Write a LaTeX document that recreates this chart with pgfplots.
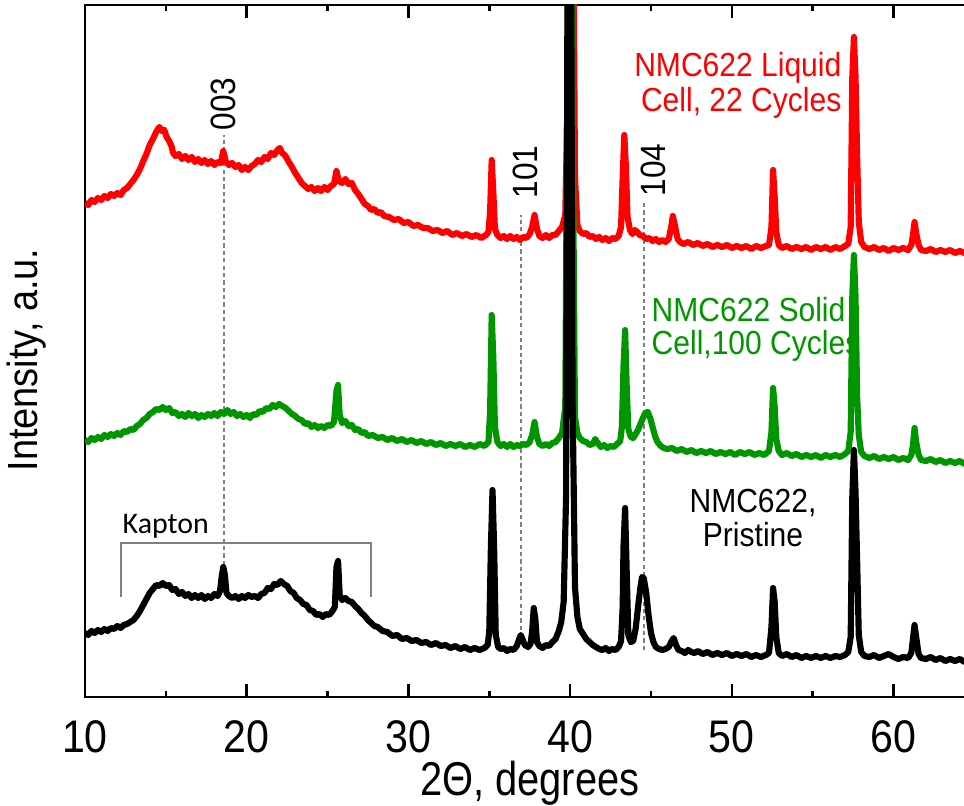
\documentclass[border=0pt]{standalone}
\usepackage{fontspec}
\setmainfont{Liberation Sans}[FakeStretch=0.9]
\newfontfamily\xlabfont{Liberation Sans}[FakeStretch=0.84]
\newfontfamily\kaptonfont{Carlito}
\usepackage{pgfplots}
\pgfplotsset{compat=1.18}
\definecolor{rred}{RGB}{255,0,0}
\definecolor{ggreen}{RGB}{0,150,0}
\begin{document}
\begin{tikzpicture}
\begin{axis}[
 at={(0,0)}, anchor=south west,
 scale only axis, width=8.894cm, height=6.92cm,
 xmin=10, xmax=65, ymin=0, ymax=692,
 xtick={10,20,...,60}, minor xtick={15,25,...,65},
 ytick=\empty,
 tick align=inside,
 major tick length=0.13cm, minor tick length=0.065cm,
 axis line style={line width=0.7pt},
 every tick/.style={line width=0.7pt, black},
 tick label style={font=\fontsize{13}{15}\selectfont},
 xticklabel style={yshift=-0.11cm},
 /pgf/number format/assume math mode=true,
 xlabel={2Θ, degrees}, ylabel={Intensity, a.u.},
 x label style={font=\xlabfont\fontsize{13.5}{15}\selectfont, at={(axis description cs:0.5,-0.125)}, anchor=center},
 y label style={font=\fontsize{12}{14}\selectfont, at={(axis description cs:-0.0652,0.487)}, anchor=center, rotate=0},
 every axis plot/.append style={line width=1.75pt, line join=round, mark=none},
]
% annotations
\draw[gray, line width=0.5pt, dash pattern=on 1.2pt off 0.9pt] (axis cs:18.6,132) -- (axis cs:18.6,562);
\draw[gray, line width=0.5pt, dash pattern=on 1.2pt off 0.9pt] (axis cs:36.95,67) -- (axis cs:36.95,482);
\draw[gray, line width=0.5pt, dash pattern=on 1.2pt off 0.9pt] (axis cs:44.57,47) -- (axis cs:44.57,497);
\draw[gray, line width=0.45pt] (axis cs:12.23,100) -- (axis cs:12.23,154) -- (axis cs:27.69,154) -- (axis cs:27.69,100);

\addplot[rred] coordinates {
(10.0,494) (10.2,492) (10.4,497) (10.6,495) (10.8,499) (11.0,497) (11.2,501) (11.4,499) (11.6,503) (11.8,501) (12.0,504) (12.2,502) (12.4,507) (12.6,509) (12.8,513) (13.0,517) (13.2,522) (13.4,528) (13.6,536) (13.8,543) (14.0,552) (14.2,558) (14.4,565) (14.6,570) (14.75,566) (14.9,567) (15.05,560) (15.2,556) (15.35,551) (15.45,544) (15.6,541) (15.8,543) (16.0,538) (16.2,541) (16.4,537) (16.6,540) (16.8,535) (17.0,538) (17.2,534) (17.4,537) (17.6,533) (17.8,536) (18.0,532) (18.2,535) (18.4,534) (18.55,546) (18.7,536) (18.9,532) (19.1,534) (19.3,530) (19.5,532) (19.7,527) (19.9,530) (20.1,527) (20.3,531) (20.5,533) (20.7,537) (20.9,535) (21.1,540) (21.3,538) (21.5,544) (21.7,542) (21.9,547) (22.05,549) (22.2,544) (22.4,541) (22.6,535) (22.8,530) (23.0,524) (23.2,519) (23.4,514) (23.6,511) (23.8,508) (24.0,510) (24.2,506) (24.4,509) (24.6,506) (24.8,510) (25.0,507) (25.2,511) (25.4,513) (25.55,526) (25.7,516) (25.9,514) (26.1,518) (26.3,513) (26.5,514) (26.7,507) (26.9,503) (27.1,498) (27.3,493) (27.5,491) (27.7,487) (27.9,488) (28.1,484) (28.3,485) (28.5,481) (28.8,480) (29.1,477) (29.4,478) (29.7,474) (30.0,475) (30.3,471) (30.6,472) (30.9,469) (31.2,469) (31.5,466) (31.8,467) (32.1,464) (32.4,466) (32.7,462) (33.0,464) (33.3,461) (33.6,463) (33.9,460) (34.2,462) (34.5,459) (34.8,462) (34.95,465) (35.05,485) (35.15,537) (35.25,505) (35.35,468) (35.5,462) (35.7,459) (35.9,461) (36.1,458) (36.3,461) (36.5,458) (36.7,460) (36.9,457) (37.1,460) (37.3,459) (37.5,463) (37.65,470) (37.8,482) (37.95,468) (38.1,461) (38.3,459) (38.5,462) (38.7,459) (38.9,462) (39.1,462) (39.3,466) (39.5,470) (39.7,482) (39.85,600) (40.0,900) (40.15,900) (40.3,520) (40.45,472) (40.6,466) (40.8,463) (41.0,464) (41.2,460) (41.4,461) (41.6,458) (41.8,460) (42.0,457) (42.2,459) (42.4,456) (42.6,459) (42.8,458) (43.0,461) (43.15,470) (43.25,520) (43.35,562) (43.45,530) (43.55,480) (43.7,467) (43.85,463) (44.0,467) (44.15,465) (44.3,462) (44.5,461) (44.7,458) (44.9,459) (45.1,456) (45.3,458) (45.5,455) (45.7,457) (45.9,455) (46.1,458) (46.25,470) (46.35,481) (46.5,470) (46.65,458) (46.8,455) (47.0,453) (47.3,455) (47.6,452) (47.9,454) (48.2,451) (48.5,453) (48.8,450) (49.1,452) (49.4,450) (49.7,452) (50.0,449) (50.3,451) (50.6,449) (50.9,451) (51.2,448) (51.5,451) (51.8,449) (52.1,451) (52.3,452) (52.45,470) (52.55,527) (52.65,500) (52.75,465) (52.9,452) (53.1,449) (53.4,451) (53.7,448) (54.0,450) (54.3,448) (54.6,450) (54.9,447) (55.2,450) (55.5,448) (55.8,450) (56.1,447) (56.4,450) (56.7,448) (57.0,451) (57.2,453) (57.35,470) (57.45,620) (57.55,660) (57.65,620) (57.75,540) (57.85,475) (58.0,455) (58.2,450) (58.5,448) (58.8,450) (59.1,447) (59.4,449) (59.7,446) (60.0,449) (60.3,447) (60.6,449) (60.9,447) (61.1,452) (61.2,462) (61.3,475) (61.4,464) (61.55,452) (61.7,447) (62.0,446) (62.3,448) (62.6,445) (62.9,447) (63.2,445) (63.5,447) (63.8,444) (64.1,446) (64.4,444) (64.7,446) (65.0,444)
};
\addplot[ggreen] coordinates {
(10.0,257) (10.2,255) (10.4,259) (10.6,257) (10.8,260) (11.0,258) (11.2,262) (11.4,260) (11.6,263) (11.8,261) (12.0,264) (12.2,262) (12.4,266) (12.6,265) (12.8,268) (13.0,267) (13.2,271) (13.4,273) (13.6,277) (13.8,279) (14.0,283) (14.2,285) (14.4,288) (14.6,287) (14.8,290) (15.0,287) (15.2,289) (15.4,284) (15.6,285) (15.8,281) (16.0,283) (16.2,280) (16.4,284) (16.6,281) (16.8,283) (17.0,279) (17.2,282) (17.4,280) (17.6,283) (17.8,281) (18.0,284) (18.2,281) (18.4,285) (18.6,283) (18.8,287) (19.0,283) (19.2,285) (19.4,281) (19.6,283) (19.8,280) (20.0,282) (20.2,279) (20.4,283) (20.6,282) (20.8,286) (21.0,285) (21.2,289) (21.4,288) (21.6,292) (21.8,290) (22.0,293) (22.2,291) (22.4,289) (22.6,286) (22.8,283) (23.0,281) (23.2,278) (23.4,277) (23.6,273) (23.8,274) (24.0,270) (24.2,272) (24.4,269) (24.6,271) (24.8,269) (25.0,272) (25.2,271) (25.4,275) (25.55,306) (25.65,312) (25.75,282) (25.9,274) (26.1,276) (26.3,271) (26.5,272) (26.7,267) (26.9,268) (27.1,264) (27.3,265) (27.5,261) (27.8,262) (28.1,259) (28.4,260) (28.7,257) (29.0,259) (29.3,256) (29.6,258) (29.9,255) (30.2,257) (30.5,254) (30.8,256) (31.1,253) (31.4,255) (31.7,252) (32.0,254) (32.3,251) (32.6,253) (32.9,251) (33.2,253) (33.5,250) (33.8,252) (34.1,250) (34.4,253) (34.7,251) (34.95,255) (35.05,285) (35.15,382) (35.25,340) (35.35,270) (35.5,255) (35.7,251) (35.9,253) (36.1,250) (36.3,253) (36.5,250) (36.7,252) (36.9,251) (37.1,253) (37.3,252) (37.5,255) (37.65,262) (37.8,275) (37.95,260) (38.1,253) (38.3,251) (38.5,253) (38.7,251) (38.9,254) (39.1,255) (39.3,259) (39.5,264) (39.7,290) (39.9,800) (40.05,800) (40.3,280) (40.45,264) (40.6,259) (40.8,256) (41.0,255) (41.2,252) (41.4,253) (41.55,258) (41.7,254) (41.9,250) (42.1,252) (42.3,249) (42.5,251) (42.7,250) (42.9,253) (43.1,256) (43.2,270) (43.3,330) (43.4,367) (43.5,310) (43.6,268) (43.75,260) (43.9,259) (44.05,263) (44.2,267) (44.35,273) (44.5,279) (44.65,284) (44.8,285) (44.95,279) (45.1,270) (45.25,261) (45.4,255) (45.6,251) (45.8,249) (46.0,248) (46.3,249) (46.6,246) (46.9,248) (47.2,245) (47.5,247) (47.8,244) (48.1,246) (48.4,244) (48.7,246) (49.0,243) (49.3,245) (49.6,243) (49.9,245) (50.2,242) (50.5,245) (50.8,243) (51.1,245) (51.4,242) (51.7,244) (52.0,242) (52.3,246) (52.45,265) (52.55,309) (52.65,290) (52.75,258) (52.9,246) (53.1,242) (53.4,244) (53.7,241) (54.0,243) (54.3,240) (54.6,242) (54.9,240) (55.2,242) (55.5,239) (55.8,242) (56.1,240) (56.4,242) (56.7,240) (57.0,243) (57.2,246) (57.35,265) (57.45,400) (57.55,442) (57.65,400) (57.75,300) (57.85,262) (58.0,245) (58.2,241) (58.5,239) (58.8,241) (59.1,238) (59.4,240) (59.7,238) (60.0,240) (60.3,237) (60.6,239) (60.9,237) (61.1,242) (61.2,252) (61.3,269) (61.4,255) (61.55,242) (61.7,237) (62.0,236) (62.3,238) (62.6,235) (62.9,237) (63.2,234) (63.5,236) (63.8,234) (64.1,236) (64.4,233) (64.7,235) (65.0,233)
};
\addplot[black] coordinates {
(10.0,64) (10.2,62) (10.4,66) (10.6,64) (10.8,67) (11.0,65) (11.2,68) (11.4,66) (11.6,69) (11.8,68) (12.0,71) (12.2,69) (12.4,72) (12.6,73) (12.8,75) (13.0,77) (13.2,81) (13.4,86) (13.6,92) (13.8,98) (14.0,104) (14.2,108) (14.4,112) (14.6,111) (14.8,114) (15.0,111) (15.2,112) (15.4,107) (15.6,108) (15.8,103) (16.0,105) (16.2,101) (16.4,103) (16.6,99) (16.8,102) (17.0,99) (17.2,102) (17.4,98) (17.6,101) (17.8,99) (18.0,103) (18.2,101) (18.35,106) (18.45,120) (18.55,130) (18.65,122) (18.75,104) (18.9,101) (19.1,99) (19.3,101) (19.5,98) (19.7,101) (19.9,99) (20.1,102) (20.3,100) (20.5,101) (20.7,99) (20.9,103) (21.1,104) (21.3,109) (21.5,108) (21.7,113) (21.9,112) (22.1,116) (22.3,113) (22.5,111) (22.7,106) (22.9,104) (23.1,99) (23.3,97) (23.5,93) (23.7,92) (23.9,87) (24.1,86) (24.3,82) (24.5,83) (24.7,80) (24.9,83) (25.1,82) (25.3,86) (25.45,90) (25.55,130) (25.65,136) (25.75,102) (25.9,97) (26.1,99) (26.3,96) (26.5,95) (26.7,91) (26.9,88) (27.1,84) (27.3,81) (27.5,77) (27.7,74) (27.9,71) (28.1,70) (28.4,66) (28.7,65) (29.0,61) (29.3,62) (29.6,58) (29.9,59) (30.2,56) (30.5,57) (30.8,54) (31.1,55) (31.4,52) (31.7,54) (32.0,51) (32.3,52) (32.6,49) (32.9,51) (33.2,48) (33.5,50) (33.8,47) (34.1,49) (34.4,47) (34.7,49) (34.9,52) (35.0,65) (35.1,150) (35.2,207) (35.3,150) (35.4,62) (35.55,50) (35.7,48) (35.9,49) (36.1,46) (36.3,48) (36.5,47) (36.7,51) (36.85,58) (36.95,62) (37.05,58) (37.2,52) (37.4,50) (37.55,53) (37.65,65) (37.75,89) (37.85,78) (37.95,55) (38.1,51) (38.3,49) (38.5,52) (38.7,51) (38.9,55) (39.1,58) (39.3,66) (39.45,75) (39.6,95) (39.75,200) (39.85,800) (40.05,800) (40.15,300) (40.3,110) (40.45,80) (40.6,68) (40.8,63) (41.0,58) (41.2,55) (41.4,52) (41.6,50) (41.8,48) (42.0,47) (42.2,49) (42.4,46) (42.6,48) (42.8,47) (43.0,50) (43.15,56) (43.25,90) (43.3,150) (43.4,189) (43.5,125) (43.6,62) (43.75,55) (43.9,56) (44.05,68) (44.2,90) (44.35,110) (44.45,120) (44.55,119) (44.7,105) (44.85,82) (45.0,64) (45.15,55) (45.3,50) (45.5,48) (45.7,47) (45.9,48) (46.1,50) (46.25,55) (46.4,59) (46.55,52) (46.7,47) (46.9,46) (47.1,44) (47.3,47) (47.5,45) (47.7,44) (47.9,46) (48.2,43) (48.5,45) (48.8,42) (49.1,44) (49.4,42) (49.7,44) (50.0,41) (50.3,43) (50.6,41) (50.9,43) (51.2,40) (51.5,42) (51.8,40) (52.1,42) (52.3,44) (52.45,70) (52.55,109) (52.65,95) (52.75,60) (52.9,44) (53.1,41) (53.4,43) (53.7,40) (54.0,42) (54.3,39) (54.6,41) (54.9,39) (55.2,41) (55.5,39) (55.8,41) (56.1,39) (56.4,41) (56.7,40) (57.0,42) (57.2,45) (57.35,60) (57.45,200) (57.55,247) (57.65,205) (57.75,135) (57.85,62) (58.0,45) (58.2,41) (58.5,40) (58.8,42) (59.1,39) (59.4,41) (59.7,43) (60.0,40) (60.3,38) (60.6,40) (60.9,39) (61.1,44) (61.2,58) (61.3,72) (61.4,60) (61.55,43) (61.7,39) (62.0,38) (62.3,40) (62.6,37) (62.9,39) (63.2,36) (63.5,38) (63.8,36) (64.1,38) (64.4,35) (64.7,37) (65.0,35)
};

% text labels
\node[rred, font=\fontsize{9.5}{11}\selectfont, anchor=base east, inner sep=0] at (axis cs:56.82,620) {NMC622 Liquid};
\node[rred, font=\fontsize{9.5}{11}\selectfont, anchor=base east, inner sep=0] at (axis cs:56.82,585) {Cell, 22 Cycles};
\node[ggreen, font=\fontsize{9.5}{11}\selectfont, anchor=base west, inner sep=0] at (axis cs:45.0,375) {NMC622 Solid};
\node[ggreen, font=\fontsize{9.5}{11}\selectfont, anchor=base west, inner sep=0] at (axis cs:45.0,342) {Cell,100 Cycles};
\node[black, font=\fontsize{9.5}{11}\selectfont, anchor=base, inner sep=0] at (axis cs:51.31,184) {NMC622,};
\node[black, font=\fontsize{9.5}{11}\selectfont, anchor=base, inner sep=0] at (axis cs:51.31,150) {Pristine};
\node[black, font=\kaptonfont\fontsize{8.5}{10}\selectfont, anchor=base west, inner sep=0] at (axis cs:12.29,164) {Kapton};
\node[black, font=\fontsize{10}{12}\selectfont, rotate=90, anchor=center, inner sep=0] at (axis cs:18.57,593) {003};
\node[black, font=\fontsize{10}{12}\selectfont, rotate=90, anchor=center, inner sep=0] at (axis cs:37.21,525) {101};
\node[black, font=\fontsize{10}{12}\selectfont, rotate=90, anchor=center, inner sep=0] at (axis cs:45.13,527) {104};
\end{axis}
\pgfresetboundingbox
\path[use as bounding box] (-0.85,-1.08) rectangle (8.79,6.97);
\end{tikzpicture}
\end{document}
